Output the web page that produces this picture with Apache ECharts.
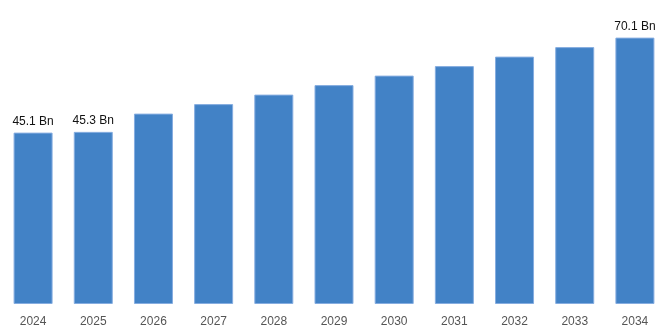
<!DOCTYPE html>
<html>
<head>
<meta charset="utf-8">
<style>
  html, body { margin: 0; padding: 0; background: #ffffff; }
  #chart { width: 668px; height: 334px; }
</style>
<script src="https://cdn.jsdelivr.net/npm/echarts@6/dist/echarts.min.js"></script>
</head>
<body>
<div id="chart"></div>
<script>
// Market size by year (USD billion)
const years = ['2024', '2025', '2026', '2027', '2028', '2029', '2030', '2031', '2032', '2033', '2034'];
const values = [45.1, 45.3, 50.1, 52.6, 55.1, 57.6, 60.1, 62.6, 65.1, 67.6, 70.1];
// Years whose bars carry a value label
const labelledYears = ['2024', '2025', '2034'];

const chart = echarts.init(document.getElementById('chart'), null, { renderer: 'canvas' });

const seriesData = values.map((v, i) => ({
  value: v,
  label: { show: labelledYears.includes(years[i]) }
}));

chart.setOption({
  animation: false,
  textStyle: { fontFamily: 'Liberation Sans, Arial, sans-serif' },
  grid: { left: 3, right: 3, top: 0, bottom: 30, containLabel: false },
  xAxis: {
    type: 'category',
    data: years,
    axisLine: { show: false },
    axisTick: { show: false },
    axisLabel: { color: '#555555', fontSize: 12, margin: 12 }
  },
  yAxis: {
    type: 'value',
    min: 0,
    max: 80,
    show: false,
    splitLine: { show: false }
  },
  series: [{
    type: 'bar',
    data: seriesData,
    barWidth: 39,
    itemStyle: {
      color: '#4282c6',
      borderColor: '#86ade0',
      borderWidth: 1
    },
    label: {
      position: 'top',
      distance: 5,
      color: '#111111',
      fontSize: 12,
      formatter: p => p.value + ' Bn'
    }
  }]
});
</script>
</body>
</html>
